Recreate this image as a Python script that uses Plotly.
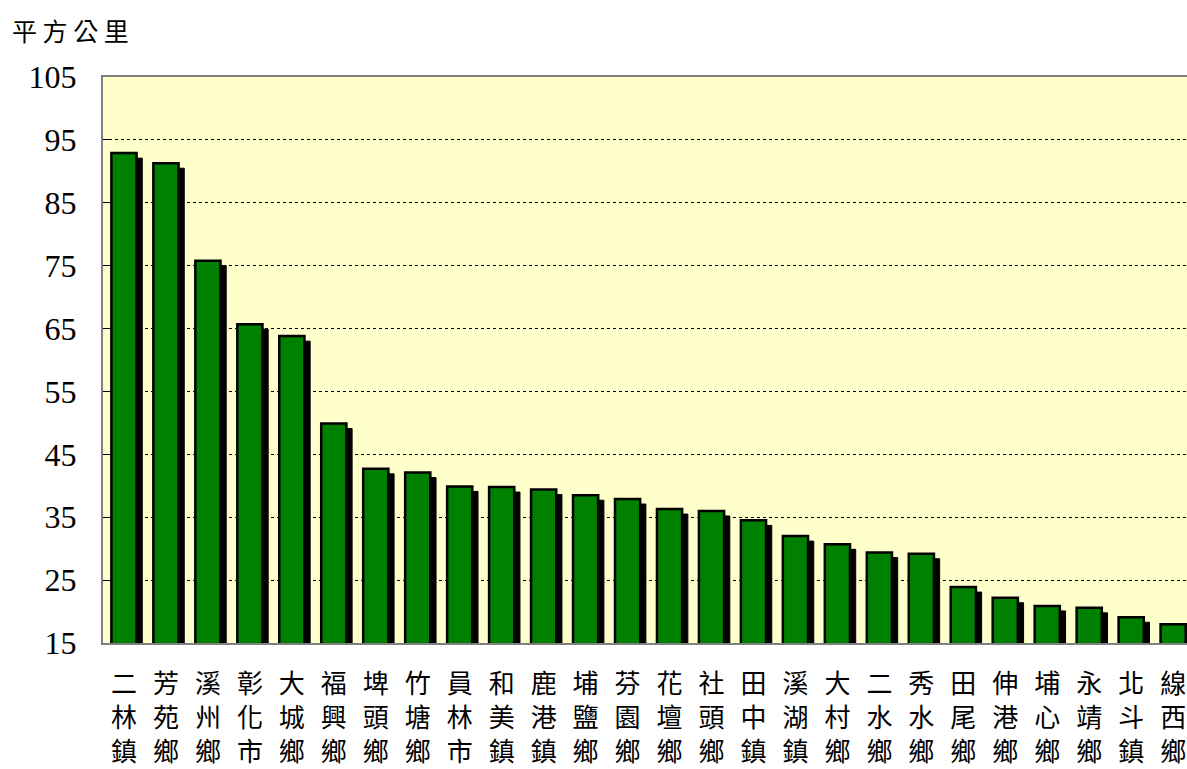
import plotly.graph_objects as go

towns = ["二林鎮", "芳苑鄉", "溪州鄉", "彰化市", "大城鄉", "福興鄉", "埤頭鄉", "竹塘鄉",
         "員林市", "和美鎮", "鹿港鎮", "埔鹽鄉", "芬園鄉", "花壇鄉", "社頭鄉", "田中鎮",
         "溪湖鎮", "大村鄉", "二水鄉", "秀水鄉", "田尾鄉", "伸港鄉", "埔心鄉", "永靖鄉",
         "北斗鎮", "線西鄉"]
area = [92.9, 91.3, 75.8, 65.7, 63.8, 49.9, 42.7, 42.1,
        39.9, 39.8, 39.4, 38.5, 37.9, 36.3, 36.0, 34.5,
        32.0, 30.7, 29.4, 29.2, 23.9, 22.2, 20.9, 20.6,
        19.1, 18.0]
y_ticks = [15, 25, 35, 45, 55, 65, 75, 85, 95, 105]
unit_label = "平方公里"

labels = ["<br>".join(t) for t in towns]
xs = list(range(len(towns)))

BAR_W = 0.6
SHADOW_DX = 0.136   # shadow shift in category units
SHADOW_DY = 0.8     # shadow drop in value units

fig = go.Figure()
fig.add_trace(go.Bar(
    x=xs, y=[v - SHADOW_DY for v in area], width=BAR_W, offset=-BAR_W / 2 + SHADOW_DX,
    marker=dict(color="black", line=dict(color="black", width=1)),
    hoverinfo="skip", showlegend=False))
fig.add_trace(go.Bar(
    x=xs, y=area, width=BAR_W, offset=-BAR_W / 2,
    marker=dict(color="#008000", line=dict(color="black", width=2.5)),
    showlegend=False, hovertemplate="%{y}<extra></extra>"))

fig.update_layout(
    width=1187, height=769,
    margin=dict(l=103, r=0, t=77, b=126, autoexpand=False),
    paper_bgcolor="white", plot_bgcolor="#FFFFCC",
    barmode="overlay",
    title=dict(text=" ".join(unit_label), x=12 / 1187, xanchor="left",
               xref="container", y=1 - 32 / 769, yanchor="middle", yref="container",
               font=dict(family="Noto Sans CJK TC", size=25, color="black")),
    xaxis=dict(
        tickmode="array", tickvals=xs, ticktext=labels, automargin=False,
        range=[-0.5, 25.33], showgrid=False, zeroline=False,
        showline=True, linecolor="#808080", linewidth=2, mirror=True,
        ticks="", ticklabelstandoff=17, ticklabeloverflow="allow",
        tickfont=dict(family="Noto Sans CJK TC", size=26, color="black")),
    yaxis=dict(
        range=[15, 105], tickmode="array", tickvals=y_ticks, automargin=False,
        showgrid=True, gridcolor="black", gridwidth=1, griddash="dot",
        zeroline=False, showline=True, linecolor="#808080", linewidth=2, mirror=True,
        ticks="inside", ticklen=8, tickcolor="black", ticklabelstandoff=18,
        tickfont=dict(family="Liberation Serif", size=32, color="black")),
)

fig.write_html("out.html", config={"displayModeBar": False},
               post_script="document.body.style.margin='0';")
